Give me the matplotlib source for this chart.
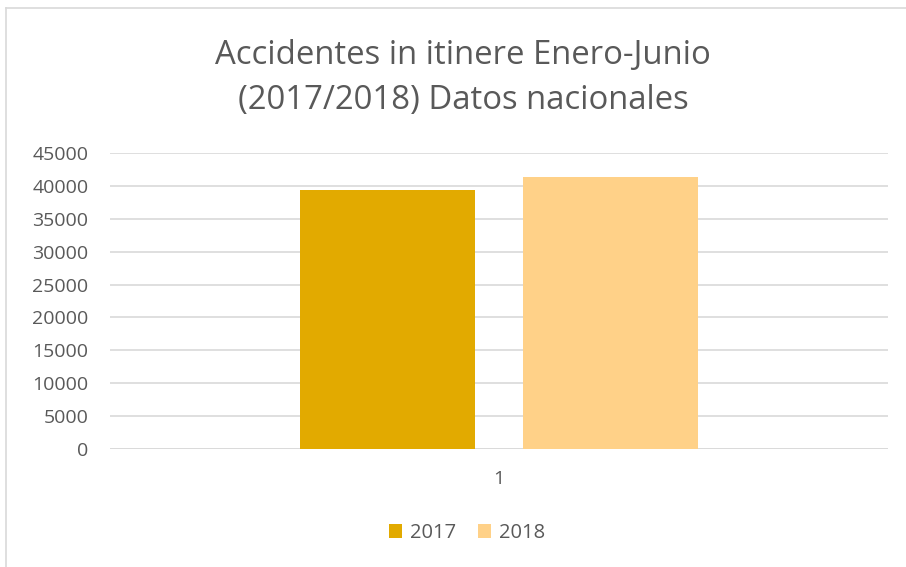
import matplotlib
matplotlib.use("Agg")
import matplotlib.pyplot as plt
from matplotlib.lines import Line2D

categories = ["1"]
series_names = ["2017", "2018"]
values_2017 = [39400]
values_2018 = [41350]
yticks = [0, 5000, 10000, 15000, 20000, 25000, 30000, 35000, 40000, 45000]
colors = ["#E2AA00", "#FFD188"]

plt.rcParams['font.family'] = ['Open Sans', 'DejaVu Sans']
fig = plt.figure(figsize=(9.06, 5.67), dpi=100)
ax = fig.add_axes([110/906, 1-449/567, (888-110)/906, (449-153)/567])

w = 0.225
off = 0.143
ax.bar([-off], values_2017, width=w, color=colors[0], label=series_names[0], zorder=3)
ax.bar([off], values_2018, width=w, color=colors[1], label=series_names[1], zorder=3)
ax.set_xlim(-0.5, 0.5)
ax.set_ylim(0, 45000)
ax.set_yticks(yticks)
ax.set_yticklabels([str(v) for v in yticks], fontsize=14, color="#595959")
ax.set_xticks([0])
ax.set_xticklabels(categories, fontsize=14, color="#595959")
ax.tick_params(axis='y', length=0, pad=15.5)
ax.tick_params(axis='x', length=0, pad=15)
ax.grid(axis='y', color="#D9D9D9", linewidth=1.2, zorder=0)
for s in ax.spines.values():
    s.set_visible(False)
ax.axhline(0, color="#D9D9D9", linewidth=1.2, zorder=1)

fig.text(463/906, 1-56/567, "Accidentes in itinere Enero-Junio", ha='center', va='center', fontsize=23.7, color="#595959")
fig.text(463/906, 1-101/567, "(2017/2018) Datos nacionales", ha='center', va='center', fontsize=23.7, color="#595959")

leg = fig.legend(loc='center', bbox_to_anchor=(467/906, 1-533/567), ncol=2, frameon=False,
                 fontsize=14.5, handlelength=0.65, handleheight=0.65, handletextpad=0.4, columnspacing=1.1,
                 labelcolor="#595959")

fig.add_artist(Line2D([5.5/906, 5.5/906], [0, 1-8/567], color="#D9D9D9", linewidth=1.2, transform=fig.transFigure))
fig.add_artist(Line2D([5.5/906, 1], [1-8/567, 1-8/567], color="#D9D9D9", linewidth=1.2, transform=fig.transFigure))

fig.savefig("out.png", dpi=100)
